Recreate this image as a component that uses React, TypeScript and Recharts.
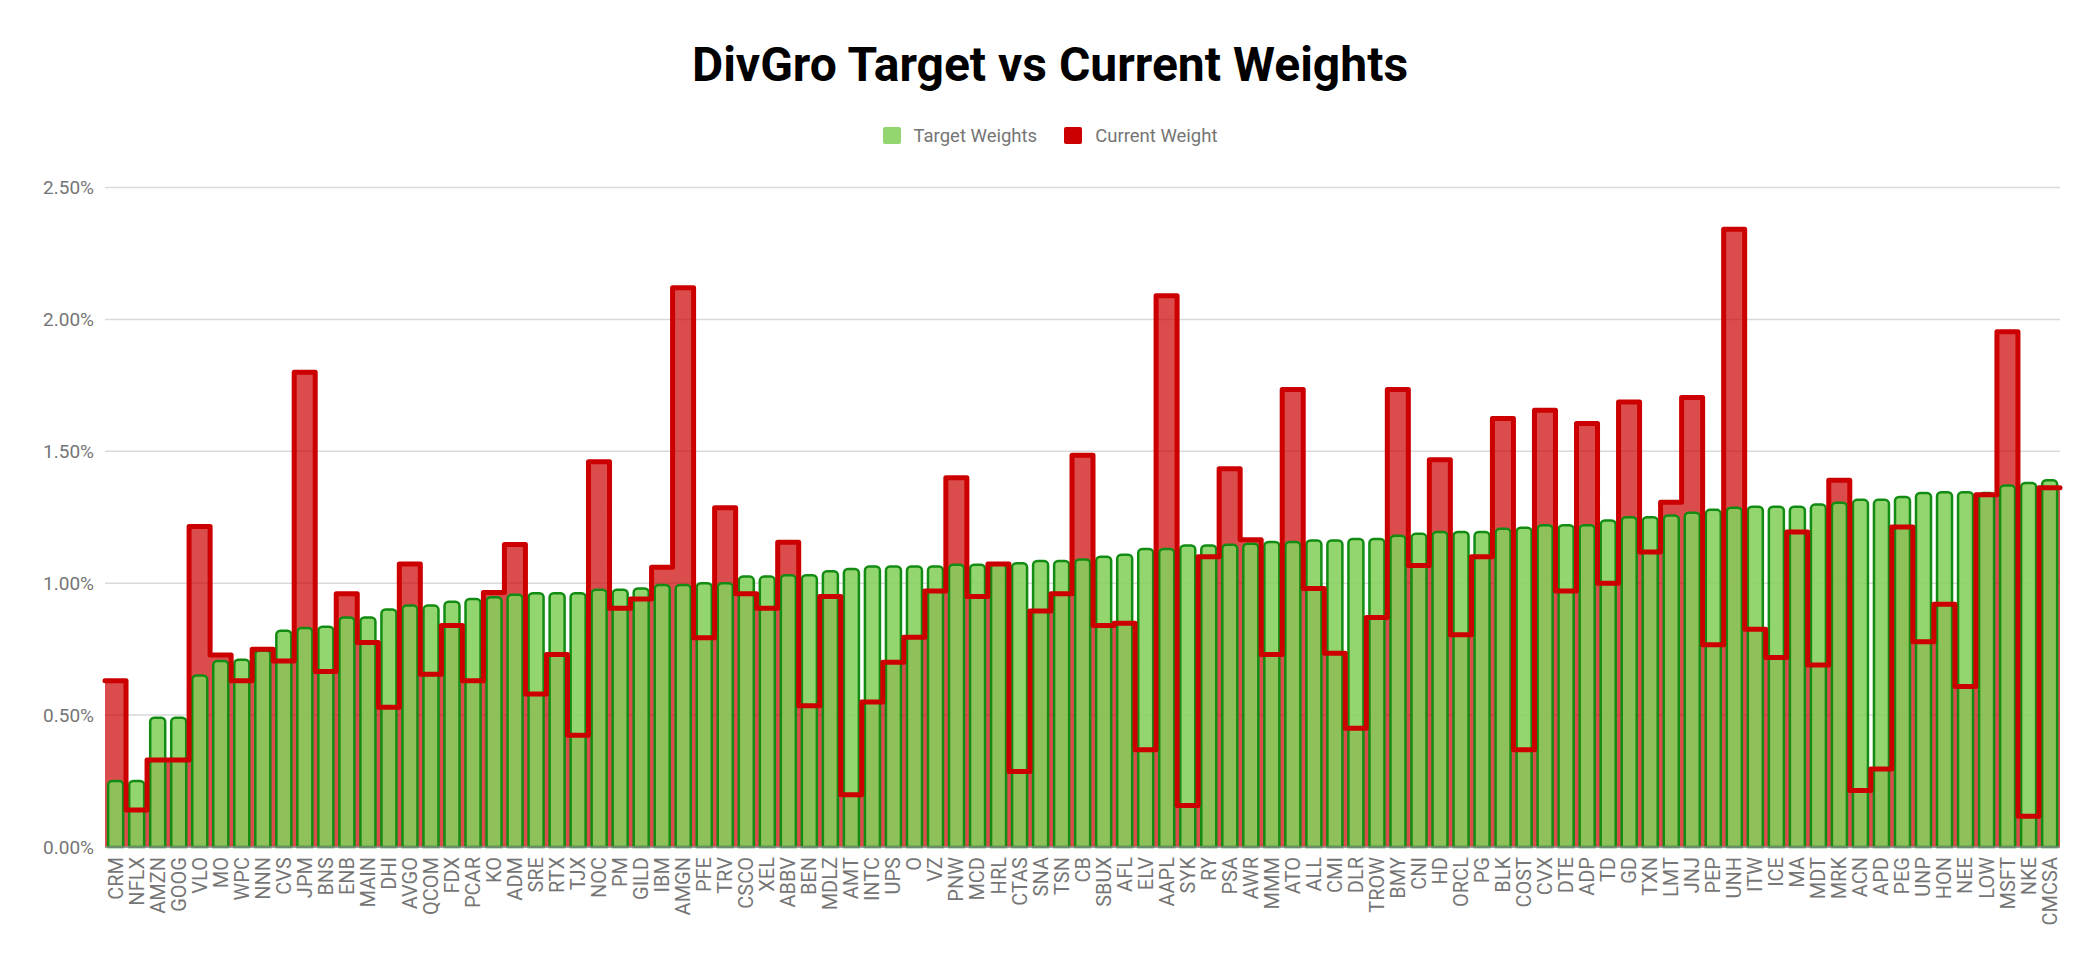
import React from 'react';
import { ComposedChart, Bar, Area, Line, XAxis, YAxis, CartesianGrid, Legend } from 'recharts';

const categories = [
  'CRM', 'NFLX', 'AMZN', 'GOOG', 'VLO', 'MO', 'WPC', 'NNN', 'CVS', 'JPM',
  'BNS', 'ENB', 'MAIN', 'DHI', 'AVGO', 'QCOM', 'FDX', 'PCAR', 'KO', 'ADM',
  'SRE', 'RTX', 'TJX', 'NOC', 'PM', 'GILD', 'IBM', 'AMGN', 'PFE', 'TRV',
  'CSCO', 'XEL', 'ABBV', 'BEN', 'MDLZ', 'AMT', 'INTC', 'UPS', 'O', 'VZ',
  'PNW', 'MCD', 'HRL', 'CTAS', 'SNA', 'TSN', 'CB', 'SBUX', 'AFL', 'ELV',
  'AAPL', 'SYK', 'RY', 'PSA', 'AWR', 'MMM', 'ATO', 'ALL', 'CMI', 'DLR',
  'TROW', 'BMY', 'CNI', 'HD', 'ORCL', 'PG', 'BLK', 'COST', 'CVX', 'DTE',
  'ADP', 'TD', 'GD', 'TXN', 'LMT', 'JNJ', 'PEP', 'UNH', 'ITW', 'ICE',
  'MA', 'MDT', 'MRK', 'ACN', 'APD', 'PEG', 'UNP', 'HON', 'NEE', 'LOW',
  'MSFT', 'NKE', 'CMCSA',
];

const targetWeights = [
  0.25, 0.25, 0.49, 0.49, 0.65, 0.705, 0.71, 0.745, 0.82, 0.83,
  0.835, 0.87, 0.87, 0.9, 0.915, 0.915, 0.93, 0.94, 0.947, 0.956,
  0.962, 0.962, 0.962, 0.975, 0.975, 0.98, 0.993, 0.993, 1.0, 1.0,
  1.025, 1.025, 1.03, 1.03, 1.045, 1.054, 1.063, 1.063, 1.063, 1.063,
  1.07, 1.07, 1.073, 1.076, 1.084, 1.084, 1.09, 1.1, 1.108, 1.13,
  1.13, 1.143, 1.143, 1.146, 1.15, 1.156, 1.156, 1.162, 1.162, 1.168,
  1.168, 1.18, 1.187, 1.194, 1.194, 1.194, 1.206, 1.21, 1.22, 1.22,
  1.22, 1.238, 1.25, 1.25, 1.257, 1.267, 1.278, 1.286, 1.29, 1.29,
  1.29, 1.298, 1.305, 1.316, 1.316, 1.327, 1.342, 1.345, 1.345, 1.342,
  1.37, 1.38, 1.39,
];

const currentWeights = [
  0.63, 0.14, 0.33, 0.33, 1.215, 0.728, 0.63, 0.75, 0.705, 1.8,
  0.665, 0.96, 0.775, 0.53, 1.073, 0.655, 0.84, 0.63, 0.965, 1.147,
  0.58, 0.73, 0.424, 1.46, 0.905, 0.94, 1.06, 2.12, 0.793, 1.286,
  0.96, 0.905, 1.155, 0.535, 0.95, 0.198, 0.55, 0.7, 0.795, 0.97,
  1.4, 0.95, 1.073, 0.286, 0.895, 0.96, 1.485, 0.84, 0.848, 0.369,
  2.09, 0.157, 1.1, 1.434, 1.165, 0.73, 1.734, 0.98, 0.734, 0.45,
  0.87, 1.734, 1.067, 1.468, 0.805, 1.1, 1.624, 0.369, 1.656, 0.97,
  1.605, 1.0, 1.687, 1.118, 1.307, 1.704, 0.767, 2.342, 0.825, 0.718,
  1.194, 0.69, 1.39, 0.214, 0.296, 1.213, 0.778, 0.92, 0.608, 1.335,
  1.953, 0.117, 1.362,
];

const yTicks = [0, 0.5, 1, 1.5, 2, 2.5];
const seriesNames = ['Target Weights', 'Current Weight'];
const chartTitle = 'DivGro Target vs Current Weights';

const GREEN_FILL = '#86d05c';
const GREEN_OPACITY = 0.89;
const GREEN_STROKE = '#128c12';
const RED = '#cc0000';
const GRAY_TEXT = '#757575';
const FONT = 'Roboto, "Noto Sans", sans-serif';

const data = categories.map((name, i) => ({
  name,
  target: targetWeights[i],
  current: currentWeights[i],
}));

// Step curve whose every step spans the full category band (half a band on each side of the point).
function bandStepCurve(context: any) {
  let line = NaN;
  let pts: [number, number][] = [];
  return {
    areaStart() { line = 0; },
    areaEnd() { line = NaN; },
    lineStart() { pts = []; },
    lineEnd() {
      const n = pts.length;
      if (n) {
        const h = n > 1 ? (pts[1][0] - pts[0][0]) / 2 : 0;
        for (let i = 0; i < n; i++) {
          const [x, y] = pts[i];
          if (i === 0) {
            if (line) context.lineTo(x - h, y);
            else context.moveTo(x - h, y);
          } else {
            const xm = (pts[i - 1][0] + x) / 2;
            context.lineTo(xm, pts[i - 1][1]);
            context.lineTo(xm, y);
          }
        }
        context.lineTo(pts[n - 1][0] + h, pts[n - 1][1]);
      }
      if (line || (line !== 0 && n === 1)) context.closePath();
      if (line >= 0) line = 1 - line;
    },
    point(x: number, y: number) { pts.push([+x, +y]); },
  };
}

const XTick = (props: any) => {
  const { x, y, payload } = props;
  return (
    <text
      x={x}
      y={y}
      dy="0.355em"
      transform={`rotate(-90, ${x}, ${y})`}
      textAnchor="end"
      fill={GRAY_TEXT}
      fontSize={20}
      fontFamily={FONT}
    >
      {payload.value}
    </text>
  );
};

const legendItems = [
  { name: seriesNames[0], color: GREEN_FILL, opacity: GREEN_OPACITY },
  { name: seriesNames[1], color: RED, opacity: 1 },
];

const renderLegend = () => (
  <div
    style={{
      display: 'flex',
      justifyContent: 'center',
      alignItems: 'center',
      height: 30,
      fontFamily: FONT,
      fontSize: 18.5,
      color: GRAY_TEXT,
    }}
  >
    {legendItems.map((item, i) => (
      <div key={item.name} style={{ display: 'flex', alignItems: 'center', marginLeft: i === 0 ? 0 : 27 }}>
        <span
          style={{
            display: 'inline-block',
            width: 18,
            height: 17,
            borderRadius: 2,
            background: item.color,
            opacity: item.opacity,
            marginRight: 13,
          }}
        />
        <span>{item.name}</span>
      </div>
    ))}
  </div>
);

export default function App() {
  return (
    <div style={{ position: 'absolute', left: 0, top: 0, width: 2100, height: 964, background: '#fff', fontFamily: FONT }}>
      <div
        style={{
          position: 'absolute',
          left: 0,
          top: 41,
          width: 2100,
          textAlign: 'center',
          fontSize: 48,
          lineHeight: '48px',
          fontWeight: 700,
          color: '#000',
          fontFamily: FONT,
        }}
      >
        {chartTitle}
      </div>
      <ComposedChart
        width={2100}
        height={964}
        data={data}
        margin={{ top: 187.5, right: 40, bottom: 0, left: 0 }}
        barCategoryGap="15%"
      >
        <CartesianGrid vertical={false} stroke="#d9d9d9" strokeWidth={1.5} />
        <XAxis
          dataKey="name"
          interval={0}
          height={117}
          tickLine={false}
          tickSize={6}
          tickMargin={4}
          axisLine={{ stroke: '#8c8c8c', strokeWidth: 1.5 }}
          tick={<XTick />}
        />
        <YAxis
          width={105}
          domain={[0, 2.5]}
          ticks={yTicks}
          axisLine={false}
          tickLine={false}
          tickSize={6}
          tickMargin={5}
          tickFormatter={(v: number) => `${v.toFixed(2)}%`}
          tick={{ fill: GRAY_TEXT, fontSize: 19, fontFamily: FONT }}
        />
        <Legend
          layout="horizontal"
          verticalAlign="middle"
          align="center"
          wrapperStyle={{ top: 120.5, left: 0, width: 2100 }}
          content={renderLegend}
        />
        <Area
          dataKey="current"
          name={seriesNames[1]}
          type={bandStepCurve as any}
          fill={RED}
          fillOpacity={0.7}
          stroke="none"
          isAnimationActive={false}
          legendType="none"
        />
        <Bar
          dataKey="target"
          name={seriesNames[0]}
          fill={GREEN_FILL}
          fillOpacity={GREEN_OPACITY}
          stroke={GREEN_STROKE}
          strokeWidth={2.5}
          radius={[4, 4, 0, 0]}
          isAnimationActive={false}
        />
        <Line
          dataKey="current"
          name={seriesNames[1]}
          type={bandStepCurve as any}
          stroke={RED}
          strokeWidth={5}
          strokeLinejoin="round"
          strokeLinecap="round"
          dot={false}
          activeDot={false}
          isAnimationActive={false}
          legendType="none"
        />
      </ComposedChart>
    </div>
  );
}
